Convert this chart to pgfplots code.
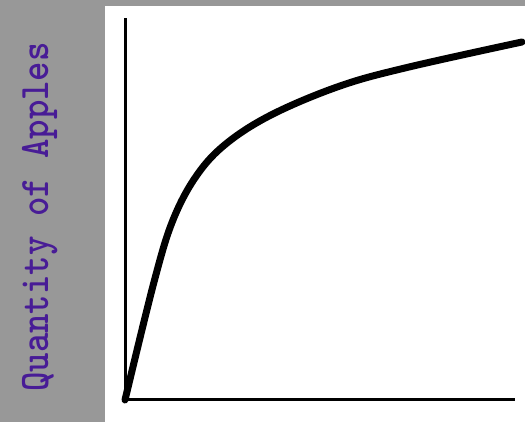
\documentclass[border=0pt]{standalone}
\usepackage{pgfplots}
\pgfplotsset{compat=1.18}
\usepackage{graphicx}
\definecolor{panelgray}{RGB}{152,152,152}
\definecolor{labelpurple}{RGB}{72,28,150}
\begin{document}
\begin{tikzpicture}[x=1pt,y=1pt]
\fill[panelgray] (0,0) rectangle (525,422);
\fill[white] (105,0) rectangle (525,416);
\path[use as bounding box] (0,0) rectangle (525,422);
\begin{axis}[
  at={(125pt,22pt)}, anchor=south west,
  scale only axis, width=388pt, height=380pt,
  xmin=0, xmax=388, ymin=0, ymax=380,
  axis lines=left,
  axis line style={-, line width=3pt, black, line cap=rect},
  xtick=\empty, ytick=\empty,
  clip=false,
]
\addplot[black, line width=7pt, smooth, tension=0.6, line cap=round] coordinates {
(0,0)(29,118)(48,180)(72,225)(102,257)(148,286)(215,314)(282,332.5)(397,358)
};
\end{axis}
\node[rotate=90, anchor=base, text=labelpurple, inner sep=0pt]
  at (48,205) {\scalebox{0.88}[1]{\fontsize{42}{42}\selectfont\ttfamily\bfseries Quantity of Apples}};
\end{tikzpicture}
\end{document}
